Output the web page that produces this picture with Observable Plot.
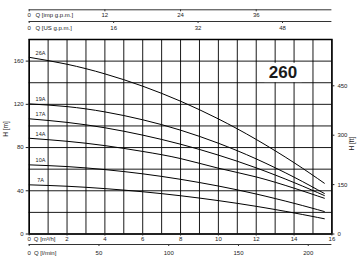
<!DOCTYPE html>
<html><head><meta charset="utf-8">
<script src="https://cdn.jsdelivr.net/npm/d3@7"></script>
<script src="https://cdn.jsdelivr.net/npm/@observablehq/plot@0.6"></script>
<style>html,body{margin:0;padding:0;background:#fff;} svg{display:block}</style>
</head><body><div id="chart"></div>
<script>
// ---- data ----
const Q = [0, 2, 4, 6, 8, 10, 12, 14, 15.6];               // m3/h
const H_26A = [163.5, 157.1, 148.2, 136.8, 122.9, 106.5, 87.5, 66.0, 47.0];
const H_19A = [120.4, 117.9, 113.0, 105.7, 96.1, 84.0, 69.5, 52.6, 37.5];
const H_17A = [106.6, 103.3, 98.3, 91.5, 83.1, 73.0, 61.2, 47.6, 35.6];
const H_14A = [88.6, 85.8, 81.8, 76.4, 69.8, 60.9, 52.8, 42.4, 33.1];
const H_10A = [64.0, 62.4, 59.6, 55.7, 50.6, 44.4, 37.0, 28.4, 20.8];
const H_7A  = [45.5, 44.2, 42.0, 39.1, 35.4, 30.9, 25.6, 19.5, 14.1];
const PUMPS = ["26A", "19A", "17A", "14A", "10A", "7A"];
const SERIES = [H_26A, H_19A, H_17A, H_14A, H_10A, H_7A];
const MODEL = "260";

const Q_M3H_TICKS = [0, 2, 4, 6, 8, 10, 12, 14, 16];
const IMP_TICKS = [0, 12, 24, 36];
const US_TICKS = [0, 16, 32, 48];
const LMIN_TICKS = [0, 50, 100, 150, 200];
const H_M_TICKS = [0, 40, 80, 120, 160];
const H_FT_TICKS = [0, 150, 300, 450];
const GRID_Q = d3.range(0, 17, 1);
const GRID_H = d3.range(0, 181, 20);

// secondary-scale ratios as drawn on the reference (units per m3/h)
const IMP_PER_M3H = 3.0;
const US_PER_M3H = 3.585;
const LMIN_PER_M3H = 13.56;
const M_PER_FT = 0.3048;

// ---- derived tables ----
const curveRows = PUMPS.flatMap((p, k) => Q.map((q, i) => ({pump: p, q, h: SERIES[k][i]})));
const labelRows = PUMPS.map((p, k) => ({pump: p, q: Q[0], h: SERIES[k][0]}));
const impRows = IMP_TICKS.map(v => ({q: v / IMP_PER_M3H, label: String(v)}));
const usRows = US_TICKS.map(v => ({q: v / US_PER_M3H, label: String(v)}));
const lminRows = LMIN_TICKS.map(v => ({q: v / LMIN_PER_M3H, label: String(v)}));

const W = 359, H = 257, ML = 28.7, MR = 27.6, MT = 39, MB = 23.5;
const FB = H - MB; // frame bottom px
const mid = {lineAnchor: "middle"};

const chart = Plot.plot({
  width: W, height: H,
  marginLeft: ML, marginRight: MR, marginTop: MT, marginBottom: MB,
  style: {fontFamily: "'Liberation Sans', Arial, sans-serif", fontSize: "6px", color: "#222", background: "white"},
  x: {domain: [0, 16]},
  y: {domain: [0, 180]},
  marks: [
    Plot.gridX(GRID_Q, {stroke: "#000", strokeOpacity: 0.9}),
    Plot.gridY(GRID_H, {stroke: "#000", strokeOpacity: 0.9}),
    Plot.line(curveRows, {x: "q", y: "h", z: "pump", curve: "natural", stroke: "#000", strokeWidth: 1}),
    Plot.text(labelRows, {x: "q", y: "h", text: "pump", dx: 11.3, dy: -4.5, fontSize: 5.5, fill: "#222"}),
    Plot.text([MODEL], {text: d => d, frameAnchor: "top-right", ...mid, dx: -34.7, dy: 33, fontSize: 17, fontWeight: "bold", fill: "#1a1a1a", className: "model"}),
    Plot.frame({stroke: "#000", strokeWidth: 1.5}),
    // left / right H axes
    Plot.axisY(H_M_TICKS, {anchor: "left", tickSize: 3, tickPadding: 2.5, label: null}),
    Plot.axisY(H_FT_TICKS.map(f => f * M_PER_FT), {anchor: "right", tickSize: 2, tickPadding: 3.5, tickFormat: d => Math.round(d / M_PER_FT), label: null}),
    Plot.text(["H [m]"], {text: d => d, frameAnchor: "left", dx: -23.2, rotate: -90, fontSize: 6.5}),
    Plot.text(["H [ft]"], {text: d => d, frameAnchor: "right", dx: 19.8, rotate: -90, fontSize: 6.5}),
    // bottom Q [m3/h]
    Plot.axisX(Q_M3H_TICKS, {anchor: "bottom", tickSize: 2, tickPadding: 0.5, label: null}),
    Plot.text(["Q [m³/h]"], {text: d => d, frameAnchor: "bottom-left", ...mid, dx: 4.6, dy: 238.7 - FB, textAnchor: "start"}),
    // bottom Q [l/min]
    Plot.ruleY([0], {dy: 244 - FB, stroke: "#333", strokeWidth: 1}),
    Plot.ruleX(lminRows, {x: "q", insetTop: 244 - MT, insetBottom: FB - 246, stroke: "#333"}),
    Plot.text(lminRows, {x: "q", text: "label", frameAnchor: "bottom", ...mid, dy: 252.7 - FB}),
    Plot.text(["Q [l/min]"], {text: d => d, frameAnchor: "bottom-left", ...mid, dx: 4.8, dy: 252.7 - FB, textAnchor: "start"}),
    // top Q [imp g.p.m.]
    Plot.ruleY([0], {dy: 9.3 - FB, stroke: "#333", strokeWidth: 1}),
    Plot.ruleX(impRows, {x: "q", insetTop: 9.3 - MT, insetBottom: FB - 11.3, stroke: "#333"}),
    Plot.text(impRows, {x: "q", text: "label", frameAnchor: "top", ...mid, dy: 15 - MT}),
    Plot.text(["Q [imp g.p.m.]"], {text: d => d, frameAnchor: "top-left", ...mid, dx: 6.3, dy: 14.5 - MT, textAnchor: "start"}),
    // top Q [US g.p.m.]
    Plot.ruleY([0], {dy: 21 - FB, stroke: "#333", strokeWidth: 1}),
    Plot.ruleX(usRows, {x: "q", insetTop: 21 - MT, insetBottom: FB - 23, stroke: "#333"}),
    Plot.text(usRows, {x: "q", text: "label", frameAnchor: "top", ...mid, dy: 27.7 - MT}),
    Plot.text(["Q [US g.p.m.]"], {text: d => d, frameAnchor: "top-left", ...mid, dx: 6.3, dy: 27.2 - MT, textAnchor: "start"})
  ]
});
document.getElementById("chart").append(chart);

// white box behind the model number
const g = chart.querySelector("g.model");
if (g) {
  const t = g.querySelector("text");
  const sr = chart.getBoundingClientRect();
  const r = t.getBoundingClientRect();
  const cx = (r.left + r.right) / 2 - sr.left;
  const cy = (r.top + r.bottom) / 2 - sr.top;
  const rect = document.createElementNS("http://www.w3.org/2000/svg", "rect");
  rect.setAttribute("x", cx - (r.width + 9) / 2);
  rect.setAttribute("y", cy - 9.65);
  rect.setAttribute("width", r.width + 9);
  rect.setAttribute("height", 19.3);
  rect.setAttribute("fill", "white");
  g.parentNode.insertBefore(rect, g);
}
</script></body></html>
